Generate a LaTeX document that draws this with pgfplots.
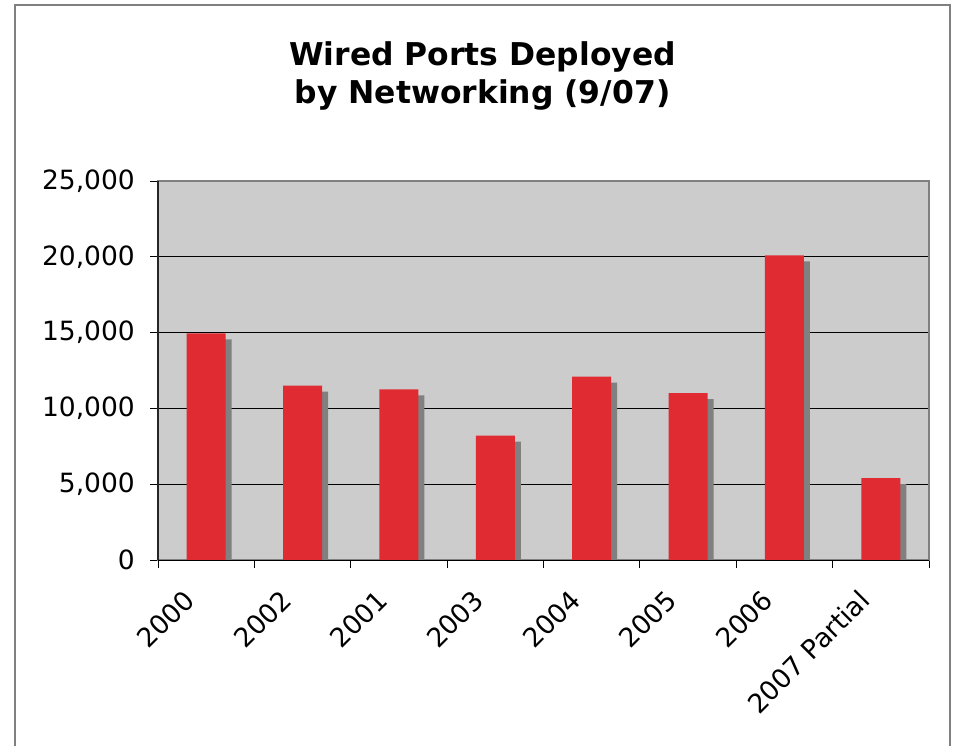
\documentclass[border=0pt]{standalone}
\usepackage{pgfplots}
\pgfplotsset{compat=1.18}
\usepackage{pgfplotstable}
\usepackage{fontspec}
\setmainfont{DejaVu Sans}
\definecolor{plotbg}{RGB}{204,204,204}
\definecolor{barred}{RGB}{224,43,51}
\definecolor{shadowgray}{RGB}{128,128,128}
\definecolor{framegray}{RGB}{128,128,128}

\pgfplotstableread{
x v
0 14950
1 11500
2 11250
3 8200
4 12100
5 11000
6 20100
7 5400
}\datatable

\begin{document}
\begin{tikzpicture}[x=1pt,y=1pt]
\useasboundingbox (0,0) rectangle (955,745);
\fill[white] (0,0) rectangle (955,745);
\draw[framegray, line width=1.2pt] (15,-10) rectangle (950,740);
\node[anchor=base, inner sep=0pt, font=\bfseries\fontsize{31.4}{36}\selectfont] at (482.5,679) {Wired Ports Deployed};
\node[anchor=base, inner sep=0pt, font=\bfseries\fontsize{31.4}{36}\selectfont] at (482.5,641) {by Networking (9/07)};
\begin{axis}[
  at={(158pt,185pt)}, anchor=south west,
  width=771pt, height=379pt, scale only axis,
  xmin=-0.5, xmax=7.5, ymin=0, ymax=25000,
  axis background/.style={fill=plotbg},
  xtick={0,...,7},
  xticklabels={2000,2002,2001,2003,2004,2005,2006,2007 Partial},
  minor xtick={-0.5,0.5,...,7.5},
  ytick={0,5000,...,25000},
  minor ytick={0,5000,...,25000},
  xtick pos=bottom, ytick pos=left,
  major tick length=0pt,
  minor tick length=8pt,
  tick align=outside,
  minor tick style={black, line width=0.8pt},
  ymajorgrids, grid style={black, line width=0.8pt},
  axis line style={framegray, line width=1.6pt},
  scaled y ticks=false,
  /pgf/number format/assume math mode=true,
  yticklabel={\pgfmathprintnumber[1000 sep={,}]{\tick}},
  ticklabel style={font=\fontsize{26.5}{31}\selectfont, inner sep=0pt},
  yticklabel style={anchor=east, xshift=-23pt},
  xticklabel style={anchor=north east, xshift=-23.5pt, yshift=-28pt, rotate=45},
  clip=true,
  after end axis/.code={
    \draw[black, line width=1pt] (rel axis cs:0,0) -- (rel axis cs:1,0);
    \draw[black!85, line width=1.4pt] (rel axis cs:0,0) -- (rel axis cs:0,1);
  },
]
\addplot[ybar, bar width=39pt, bar shift=6pt, fill=shadowgray, draw=none]
  table[x=x, y expr=\thisrow{v}-396] {\datatable};
\addplot[ybar, bar width=39pt, bar shift=0pt, fill=barred, draw=none]
  table[x=x, y=v] {\datatable};
\end{axis}
\end{tikzpicture}
\end{document}
